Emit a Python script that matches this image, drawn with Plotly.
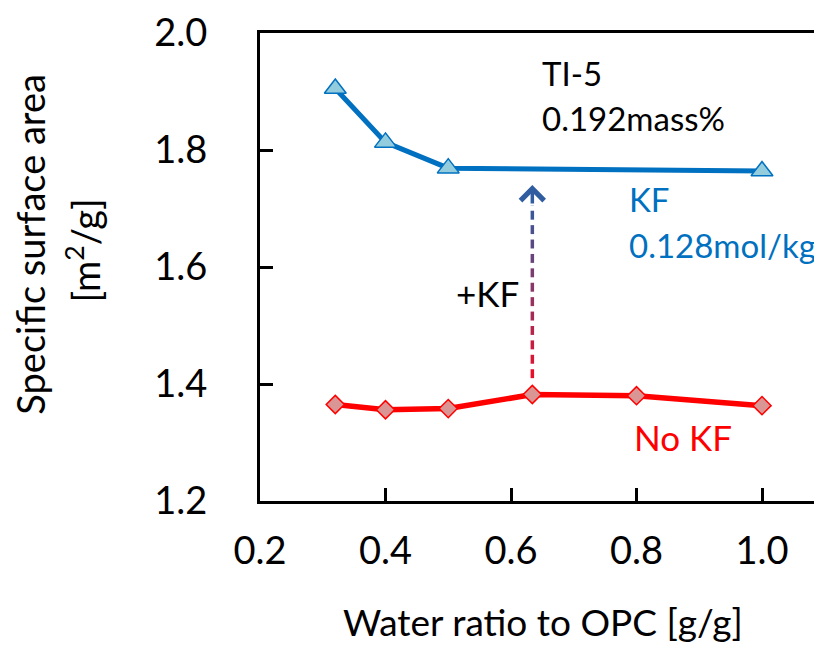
import plotly.graph_objects as go

# Data
kf_x = [0.32, 0.40, 0.50, 1.00]
kf_y = [1.905, 1.813, 1.769, 1.764]
nokf_x = [0.32, 0.40, 0.50, 0.634, 0.80, 1.00]
nokf_y = [1.365, 1.356, 1.358, 1.382, 1.380, 1.363]
x_ticks = [0.2, 0.4, 0.6, 0.8, 1.0]
x_tick_labels = ["0.2", "0.4", "0.6", "0.8", "1.0"]
y_ticks = [1.2, 1.4, 1.6, 1.8, 2.0]
y_tick_labels = ["1.2", "1.4", "1.6", "1.8", "2.0"]
arrow_x = 0.634
arrow_y_start = 1.41
arrow_y_end = 1.740

FONT = "Lato, Carlito, Calibri, sans-serif"

# layout geometry (figure pixels)
W, H = 822, 648
L, T, B, R = 252, 22, 155, 0
PW = W - L - R
PH = H - T - B
XR = [0.2, 0.2 + PW / 627.5]
YR = [1.2, 2.0]

fig = go.Figure()

# Gradient dashed arrow shaft (red at bottom -> navy at top)
c0 = (235, 15, 40)
c1 = (48, 92, 160)
ppu = PH / (YR[1] - YR[0])  # pixels per y unit
dash_px, gap_px = 9.0, 5.5
head_px = 20
top = arrow_y_end - head_px / ppu
total = top - arrow_y_start
y = arrow_y_start
while y < top:
    y2 = min(y + dash_px / ppu, top)
    t = ((y + y2) / 2 - arrow_y_start) / total
    col = "rgb(%d,%d,%d)" % tuple(int(c0[k] + (c1[k] - c0[k]) * t) for k in range(3))
    fig.add_trace(go.Scatter(x=[arrow_x, arrow_x], y=[y, y2], mode="lines",
                             line=dict(color=col, width=3.5),
                             showlegend=False, hoverinfo="skip"))
    y = y2 + gap_px / ppu

fig.add_annotation(x=arrow_x, y=arrow_y_end, ax=arrow_x, ay=arrow_y_end - head_px / ppu,
                   xref="x", yref="y", axref="x", ayref="y", text="",
                   showarrow=True, arrowhead=4, arrowsize=1.3, arrowwidth=3.5,
                   arrowcolor="rgb(48,92,160)")

fig.add_trace(go.Scatter(
    x=kf_x, y=kf_y, mode="lines+markers",
    line=dict(color="#0070C0", width=5),
    marker=dict(symbol="triangle-up", size=19, color="#93CDDD",
                line=dict(color="#0070C0", width=1.5)),
    showlegend=False))

fig.add_trace(go.Scatter(
    x=nokf_x, y=nokf_y, mode="lines+markers",
    line=dict(color="#FF0000", width=5.5),
    marker=dict(symbol="diamond", size=14, color="#D99694",
                line=dict(color="#FF0000", width=1.5)),
    showlegend=False))


def txt(x, y, s, color, size, xanchor="left"):
    fig.add_annotation(x=x, y=y, xref="x", yref="y", text=s, showarrow=False,
                       xanchor=xanchor, yanchor="middle",
                       font=dict(family=FONT, size=size, color=color))


txt(0.646, 1.932, "TI-5", "black", 33)
txt(0.646, 1.854, "0.192mass%", "black", 33)
txt(0.785, 1.716, "KF", "#0070C0", 33)
txt(0.785, 1.638, "0.128mol/kg", "#0070C0", 33)
txt(0.562, 1.555, "+KF", "black", 35, xanchor="center")
txt(0.793, 1.309, "No KF", "#FF0000", 35)


def page_to_paper(px, py):
    return (px - 8 - L) / PW, (H - B - (py - 8)) / PH


# Axis titles
xt = page_to_paper(543, 622)
fig.add_annotation(x=xt[0], y=xt[1], xref="paper", yref="paper",
                   text="Water ratio to OPC [g/g]", showarrow=False,
                   xanchor="center", yanchor="middle",
                   font=dict(family=FONT, size=37, color="black"))
yt1 = page_to_paper(30, 243)
fig.add_annotation(x=yt1[0], y=yt1[1], xref="paper", yref="paper",
                   text="Specific surface area", showarrow=False, textangle=-90,
                   xanchor="center", yanchor="middle",
                   font=dict(family=FONT, size=38, color="black"))
yt2 = page_to_paper(83, 249)
fig.add_annotation(x=yt2[0], y=yt2[1], xref="paper", yref="paper",
                   text="[m<sup>2</sup>/g]", showarrow=False, textangle=-90,
                   xanchor="center", yanchor="middle",
                   font=dict(family=FONT, size=38, color="black"))

fig.update_layout(
    width=W, height=H,
    margin=dict(l=L, r=R, t=T, b=B),
    plot_bgcolor="white", paper_bgcolor="white",
    font=dict(family=FONT, size=38, color="black"),
    xaxis=dict(range=XR, tickvals=x_ticks, ticktext=x_tick_labels,
               ticks="inside", ticklen=13, tickwidth=3, tickcolor="black",
               showline=True, linewidth=3, linecolor="black", mirror=True,
               showgrid=False, zeroline=False, ticklabelstandoff=14,
               ticklabeloverflow="allow"),
    yaxis=dict(range=YR, tickvals=y_ticks, ticktext=y_tick_labels,
               ticks="inside", ticklen=13, tickwidth=3, tickcolor="black",
               showline=True, linewidth=3, linecolor="black",
               showgrid=False, zeroline=False, ticklabelstandoff=42,
               ticklabeloverflow="allow"),
)

fig.write_html("out.html")
